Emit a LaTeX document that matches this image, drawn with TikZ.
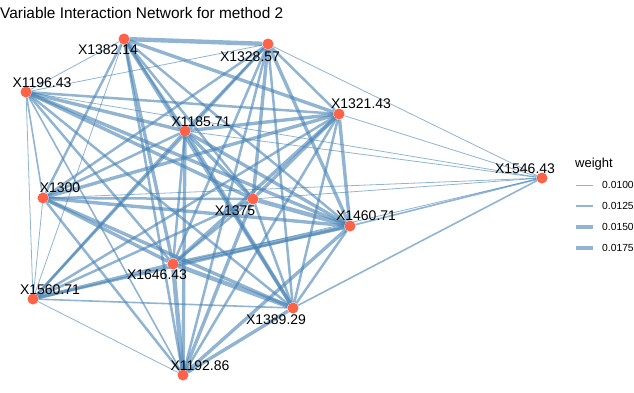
\documentclass[tikz,border=0pt]{standalone}
\usepackage{fontspec}
\setmainfont{Liberation Sans}
\usetikzlibrary{calc,backgrounds}
\definecolor{edgeblue}{HTML}{4682B4}
\definecolor{varred}{HTML}{FF6347}
\tikzset{
  varpt/.style={circle, fill=varred, inner sep=0pt, minimum size=11pt},
  varlabel/.style={font=\fontsize{14}{16}\selectfont, inner sep=0pt},
  link/.style={draw=edgeblue, draw opacity=0.6, line width=#1pt},
  titletext/.style={font=\fontsize{15.4}{18}\selectfont, inner sep=0pt, anchor=base west},
  legtitle/.style={font=\fontsize{13}{15}\selectfont, inner sep=0pt, anchor=base west},
  legtext/.style={font=\fontsize{10.3}{12}\selectfont, inner sep=0pt, anchor=west},
}

\begin{document}
\begin{tikzpicture}[x=1pt, y=-1pt]
\useasboundingbox (0,0) rectangle (634,392);

% Variables.
\node[varpt] (a) at (124,39) {};
\node[varpt] (b) at (268,44) {};
\node[varpt] (c) at (26,92) {};
\node[varpt] (d) at (185,131) {};
\node[varpt] (e) at (339,114) {};
\node[varpt] (f) at (542,178) {};
\node[varpt] (g) at (43,198) {};
\node[varpt] (h) at (253,199) {};
\node[varpt] (i) at (350,226) {};
\node[varpt] (j) at (173,264) {};
\node[varpt] (k) at (33,299) {};
\node[varpt] (l) at (293,308) {};
\node[varpt] (m) at (183,375) {};

% Interactions, width by weight.
\begin{scope}[on background layer]
  \draw[link=4.4] (a) -- (b); \draw[link=0.8] (a) -- (c); \draw[link=2.5] (a) -- (d); \draw[link=3.4] (a) -- (e); \draw[link=2.5] (a) -- (g); \draw[link=2.5] (a) -- (h); \draw[link=2.5] (a) -- (i); \draw[link=3.4] (a) -- (j); \draw[link=0.8] (a) -- (k); \draw[link=3.4] (a) -- (l); \draw[link=2.5] (a) -- (m);
  \draw[link=0.8] (b) -- (c); \draw[link=2.5] (b) -- (d); \draw[link=2.5] (b) -- (e); \draw[link=0.8] (b) -- (f); \draw[link=2.5] (b) -- (g); \draw[link=3.4] (b) -- (h); \draw[link=3.4] (b) -- (i); \draw[link=2.5] (b) -- (j); \draw[link=2.5] (b) -- (k); \draw[link=2.5] (b) -- (l); \draw[link=2.5] (b) -- (m);
  \draw[link=3.4] (c) -- (d); \draw[link=2.5] (c) -- (e); \draw[link=0.8] (c) -- (f); \draw[link=1.6] (c) -- (g); \draw[link=3.4] (c) -- (h); \draw[link=3.4] (c) -- (i); \draw[link=2.5] (c) -- (j); \draw[link=0.8] (c) -- (k); \draw[link=2.5] (c) -- (l); \draw[link=1.6] (c) -- (m);
  \draw[link=3.4] (d) -- (e); \draw[link=0.8] (d) -- (f); \draw[link=2.5] (d) -- (g); \draw[link=3.4] (d) -- (h); \draw[link=3.4] (d) -- (i); \draw[link=2.5] (d) -- (j); \draw[link=2.5] (d) -- (k); \draw[link=3.4] (d) -- (l); \draw[link=3.4] (d) -- (m);
  \draw[link=0.8] (e) -- (f); \draw[link=3.4] (e) -- (g); \draw[link=3.4] (e) -- (h); \draw[link=3.4] (e) -- (i); \draw[link=3.4] (e) -- (j); \draw[link=2.5] (e) -- (k); \draw[link=2.5] (e) -- (l); \draw[link=2.5] (e) -- (m);
  \draw[link=0.8] (f) -- (g); \draw[link=0.8] (f) -- (h); \draw[link=1.6] (f) -- (i); \draw[link=0.8] (f) -- (j); \draw[link=1.6] (f) -- (l);
  \draw[link=2.5] (g) -- (h); \draw[link=3.4] (g) -- (i); \draw[link=3.4] (g) -- (j); \draw[link=0.8] (g) -- (k); \draw[link=3.4] (g) -- (l); \draw[link=2.5] (g) -- (m);
  \draw[link=4.4] (h) -- (i); \draw[link=2.5] (h) -- (j); \draw[link=2.5] (h) -- (k); \draw[link=2.5] (h) -- (l); \draw[link=3.4] (h) -- (m);
  \draw[link=4.4] (i) -- (j); \draw[link=2.5] (i) -- (k); \draw[link=2.5] (i) -- (l); \draw[link=3.4] (i) -- (m);
  \draw[link=3.4] (j) -- (k); \draw[link=4.4] (j) -- (l); \draw[link=4.4] (j) -- (m);
  \draw[link=1.6] (k) -- (l); \draw[link=0.8] (k) -- (m);
  \draw[link=3.4] (l) -- (m);
\end{scope}

% Names, nudged off the points.
\node[varlabel] (la) at ($(a)+(-16,11)$) {X1382.14};
\node[varlabel] (lb) at ($(b)+(-18,13)$) {X1328.57};
\node[varlabel] (lc) at ($(c)+(16,-9)$) {X1196.43};
\node[varlabel] (ld) at ($(d)+(16,-9)$) {X1185.71};
\node[varlabel] (le) at ($(e)+(22,-10)$) {X1321.43};
\node[varlabel] (lf) at ($(f)+(-17,-9)$) {X1546.43};
\node[varlabel] (lg) at ($(g)+(17,-10)$) {X1300};
\node[varlabel] (lh) at ($(h)+(-18,12)$) {X1375};
\node[varlabel] (li) at ($(i)+(16,-10)$) {X1460.71};
\node[varlabel] (lj) at ($(j)+(-16,11)$) {X1646.43};
\node[varlabel] (lk) at ($(k)+(17,-9)$) {X1560.71};
\node[varlabel] (ll) at ($(l)+(-17,12)$) {X1389.29};
\node[varlabel] (lm) at ($(m)+(17,-9)$) {X1192.86};

\node[titletext] (title) at (0,18) {Variable Interaction Network for method 2};

% Legend.
\node[legtitle] (wt) at (575,167) {weight};
\coordinate (s1) at (576,185); \coordinate (e1) at (593,185);
\coordinate (s2) at (576,206); \coordinate (e2) at (593,206);
\coordinate (s3) at (576,227); \coordinate (e3) at (593,227);
\coordinate (s4) at (576,248); \coordinate (e4) at (593,248);
\draw[link=1.0] (s1) -- (e1);
\draw[link=2.1] (s2) -- (e2);
\draw[link=3.2] (s3) -- (e3);
\draw[link=4.3] (s4) -- (e4);
\node[legtext] (w1) at (602,185) {0.0100};
\node[legtext] (w2) at (602,206) {0.0125};
\node[legtext] (w3) at (602,227) {0.0150};
\node[legtext] (w4) at (602,248) {0.0175};

\end{tikzpicture}
\end{document}
